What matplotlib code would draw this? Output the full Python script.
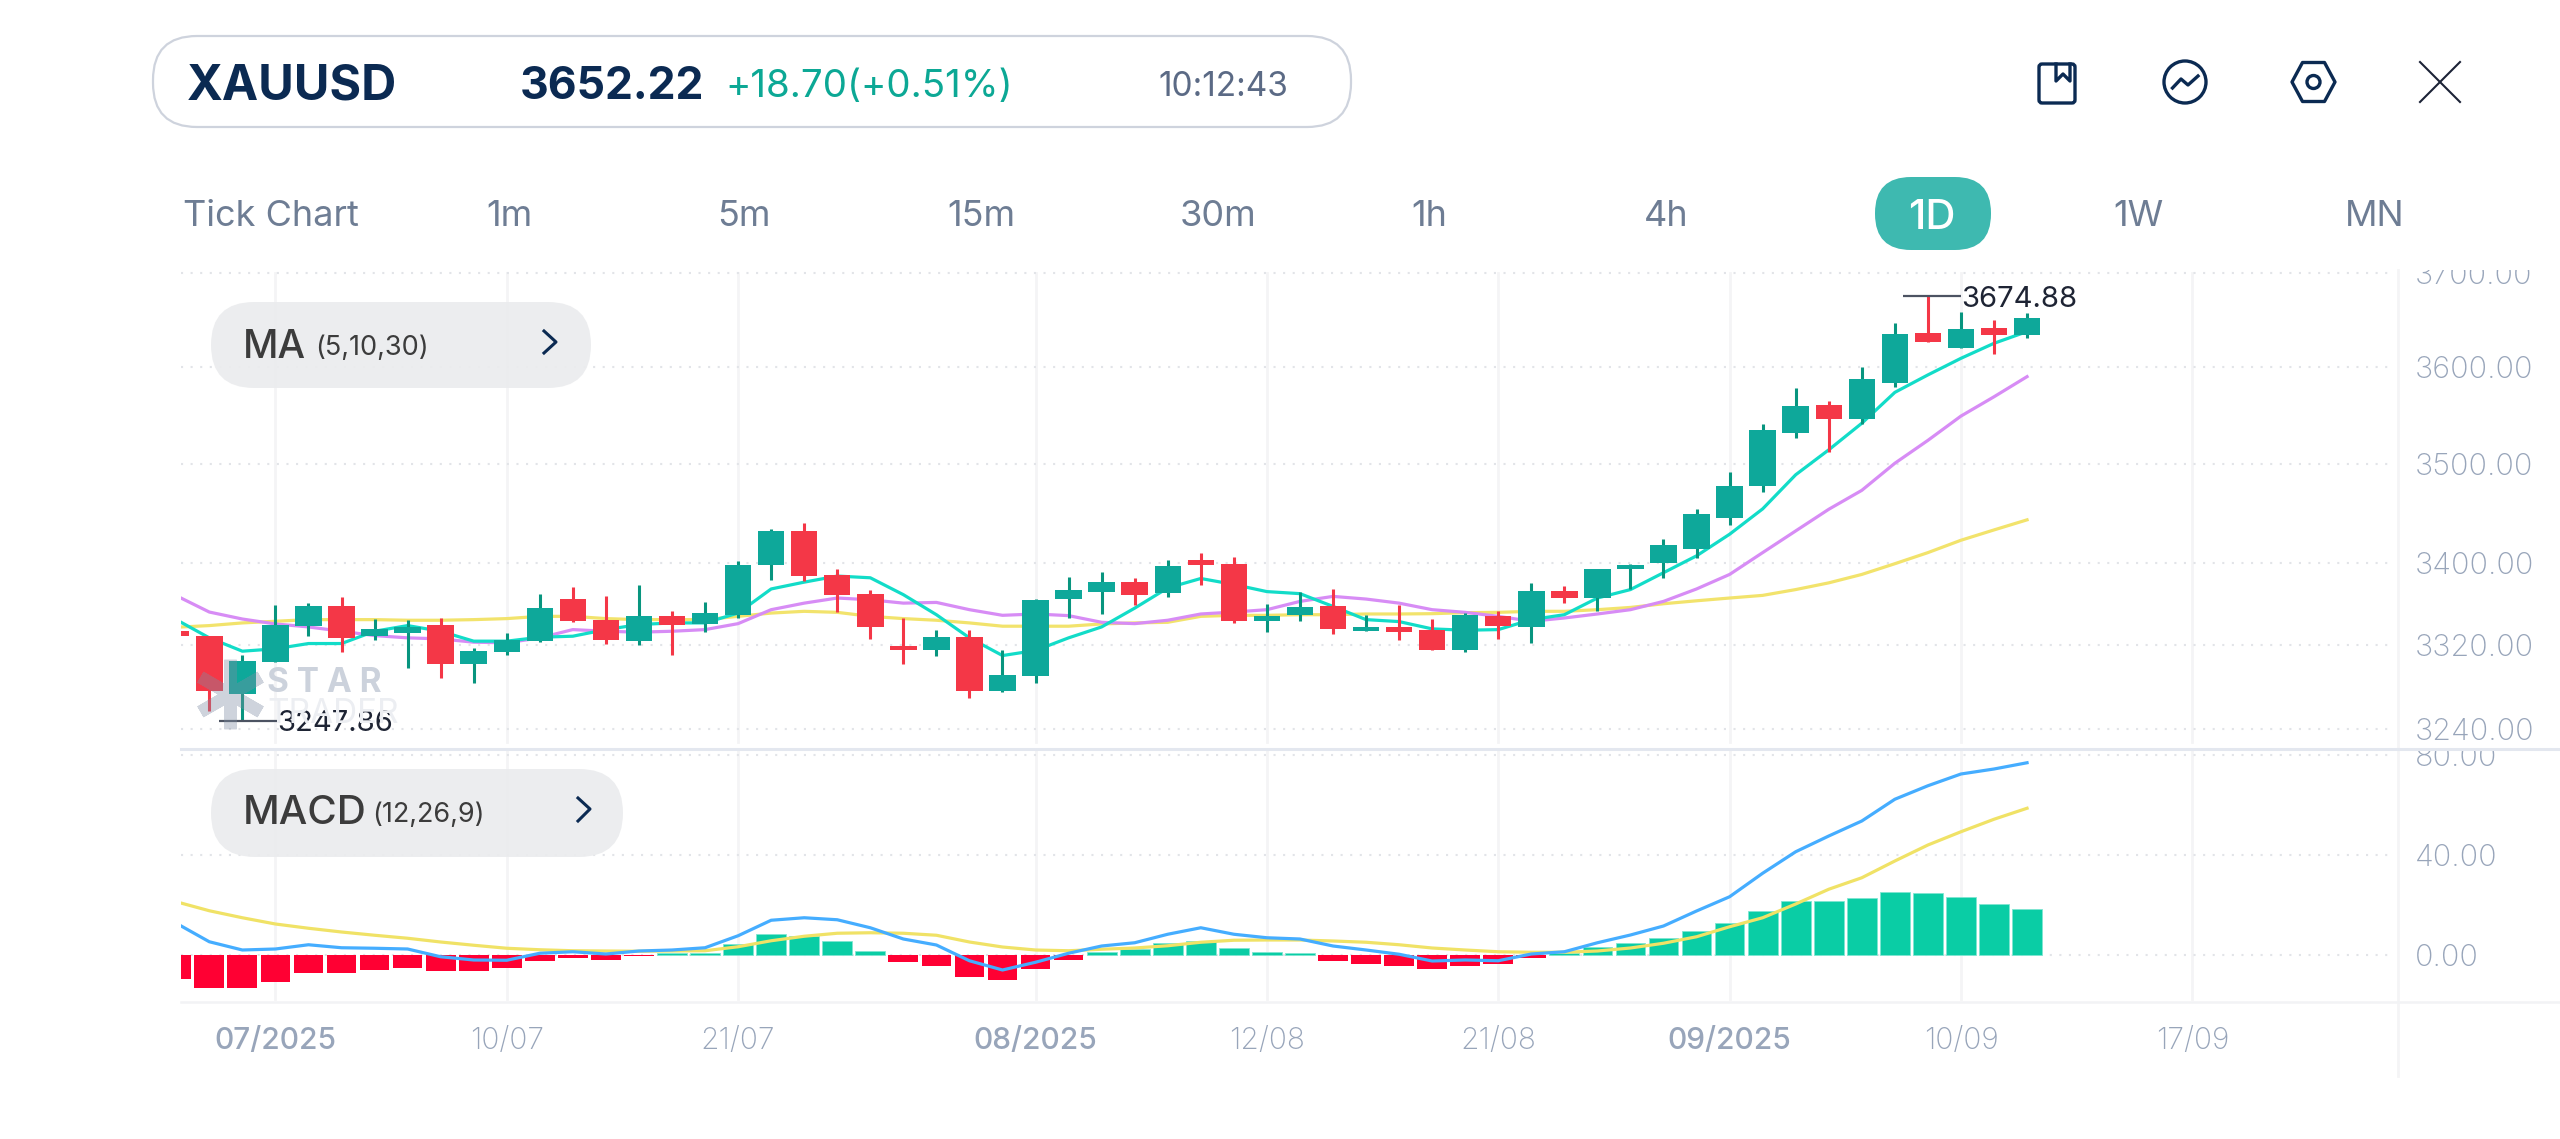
import numpy as np
import matplotlib
matplotlib.use("Agg")
import matplotlib.pyplot as plt
from matplotlib.patches import FancyBboxPatch, Circle, Polygon
from matplotlib.ticker import NullLocator

plt.rcParams['font.family'] = ['Inter', 'DejaVu Sans']

# --- DATA ---
opens = [3333.5, 3328.7, 3272.9, 3303.6, 3338.4, 3358.3, 3328.7, 3331.9, 3340.0, 3301.7,
         3313.9, 3324.5, 3364.9, 3344.8, 3324.5, 3348.7, 3340.6, 3349.6, 3398.1, 3432.3,
         3388.8, 3369.9, 3319.0, 3315.2, 3327.7, 3276.1, 3290.7, 3365.2, 3371.9, 3381.8,
         3370.9, 3403.7, 3399.4, 3343.2, 3349.0, 3357.7, 3333.9, 3337.4, 3334.5, 3315.8,
         3348.0, 3337.7, 3372.5, 3365.9, 3394.1, 3400.1, 3414.3, 3445.4, 3477.5, 3531.7,
         3560.5, 3546.0, 3583.1, 3636.3, 3619.7, 3641.6, 3633.52]
highs = [3335.0, 3328.7, 3311.0, 3359.3, 3360.9, 3366.9, 3345.4, 3344.2, 3346.4, 3317.4,
         3331.9, 3369.9, 3376.5, 3367.5, 3378.5, 3353.5, 3361.9, 3402.4, 3434.6, 3440.6,
         3394.8, 3374.2, 3346.4, 3335.1, 3335.1, 3315.8, 3364.9, 3386.8, 3391.8, 3385.8,
         3403.7, 3410.7, 3406.7, 3359.9, 3371.5, 3375.2, 3349.6, 3359.3, 3345.4, 3351.2,
         3353.2, 3380.2, 3377.5, 3394.8, 3399.7, 3424.6, 3454.4, 3491.2, 3540.6, 3578.6,
         3564.6, 3600.0, 3646.5, 3674.88, 3657.9, 3649.7, 3656.8]
lows = [3329.0, 3256.9, 3247.86, 3303.6, 3329.3, 3313.2, 3325.5, 3298.1, 3288.5, 3284.0,
        3311.0, 3322.9, 3342.2, 3321.6, 3320.6, 3311.0, 3332.6, 3346.4, 3384.1, 3382.5,
        3352.2, 3326.1, 3302.3, 3309.4, 3269.0, 3275.1, 3283.4, 3346.0, 3350.6, 3359.3,
        3366.5, 3378.5, 3341.6, 3332.6, 3343.8, 3330.6, 3333.9, 3325.5, 3315.8, 3313.2,
        3326.1, 3322.3, 3360.9, 3352.9, 3374.8, 3385.8, 3405.3, 3438.0, 3471.5, 3526.6,
        3511.9, 3541.0, 3578.9, 3626.1, 3619.7, 3613.8, 3631.0]
closes = [3329.3, 3276.1, 3304.6, 3340.0, 3358.3, 3327.1, 3335.8, 3337.7, 3301.7, 3314.2,
          3325.5, 3356.0, 3343.2, 3325.5, 3348.7, 3339.3, 3351.2, 3398.4, 3432.3, 3387.5,
          3369.2, 3337.7, 3315.2, 3327.7, 3276.1, 3291.0, 3363.6, 3374.2, 3381.8, 3368.9,
          3397.4, 3398.1, 3343.2, 3348.7, 3357.0, 3335.8, 3337.4, 3332.9, 3315.8, 3349.6,
          3338.4, 3372.5, 3365.9, 3394.8, 3398.4, 3418.0, 3449.5, 3477.2, 3534.5, 3559.8,
          3545.7, 3587.3, 3635.3, 3626.1, 3640.2, 3633.5, 3652.22]

ma5 = [3344.8, 3327.1, 3314.2, 3316.5, 3321.6, 3321.6, 3333.5, 3339.0, 3333.5, 3323.9,
       3323.9, 3327.7, 3328.7, 3335.1, 3340.0, 3341.6, 3341.6, 3351.2, 3374.8, 3381.5,
       3387.5, 3385.8, 3369.2, 3349.6, 3327.1, 3310.0, 3314.9, 3327.1, 3337.7, 3356.0,
       3375.8, 3385.1, 3379.2, 3372.2, 3370.2, 3357.7, 3344.8, 3342.9, 3335.8, 3334.5,
       3335.1, 3344.8, 3349.6, 3365.9, 3374.2, 3390.8, 3407.5, 3429.0, 3454.4, 3488.9,
       3514.3, 3541.6, 3573.6, 3591.8, 3609.2, 3625.0, 3637.4]
ma10 = [3368.2, 3352.2, 3345.4, 3340.6, 3337.7, 3333.5, 3329.3, 3327.1, 3326.1, 3322.9,
        3322.3, 3327.1, 3335.1, 3333.5, 3332.6, 3333.5, 3335.1, 3340.9, 3354.5, 3360.9,
        3365.9, 3364.2, 3360.9, 3361.6, 3354.5, 3349.0, 3350.3, 3348.7, 3342.2, 3340.9,
        3344.2, 3350.3, 3352.2, 3354.5, 3362.6, 3367.5, 3364.9, 3360.9, 3354.5, 3351.9,
        3348.0, 3343.2, 3346.4, 3350.3, 3354.5, 3362.6, 3374.8, 3389.1, 3410.7, 3432.3,
        3454.0, 3473.1, 3500.6, 3524.0, 3549.0, 3569.0, 3590.0]
ma30 = [3337.4, 3339.0, 3341.6, 3343.2, 3344.8, 3344.8, 3344.8, 3344.2, 3344.2, 3344.8,
        3345.8, 3348.0, 3348.0, 3345.8, 3344.8, 3344.8, 3344.8, 3348.0, 3351.2, 3352.9,
        3351.9, 3348.0, 3345.8, 3344.2, 3341.6, 3338.4, 3338.4, 3338.4, 3340.6, 3341.6,
        3342.2, 3348.0, 3349.0, 3349.0, 3349.6, 3349.6, 3350.3, 3350.3, 3350.6, 3351.6,
        3351.9, 3352.9, 3352.9, 3354.5, 3356.7, 3360.3, 3363.2, 3365.9, 3368.5, 3374.2,
        3380.8, 3389.1, 3399.7, 3410.7, 3423.0, 3433.3, 3443.4]

macd_hist = [-9.5, -13.3, -13.3, -10.7, -7.3, -7.1, -6.0, -5.1, -6.3, -6.3,
             -5.1, -2.4, -1.3, -2.0, -0.5, 0.7, 1.0, 4.4, 8.4, 7.6,
             5.7, 1.7, -2.8, -4.4, -8.7, -9.9, -5.5, -2.0, 1.3, 2.4,
             4.7, 5.7, 2.7, 1.2, 0.7, -2.4, -3.6, -4.4, -5.6, -4.4,
             -3.5, -1.3, 0.7, 3.3, 4.9, 6.9, 9.7, 12.9, 17.5, 21.5,
             21.5, 22.7, 25.2, 24.7, 23.3, 20.4, 18.4]
macd_dif = [12.7, 5.3, 2.0, 2.4, 4.1, 2.9, 2.7, 2.4, -0.7, -2.0,
            -2.1, 0.7, 1.3, 0.4, 1.6, 2.0, 2.9, 7.7, 13.9, 14.9,
            14.1, 10.9, 6.4, 4.0, -2.3, -6.0, -2.9, 0.7, 3.6, 4.9,
            8.3, 10.9, 8.3, 6.9, 6.4, 3.6, 2.0, 0.3, -2.4, -2.0,
            -2.3, 0.4, 1.3, 4.9, 8.0, 11.6, 17.6, 23.3, 32.7, 41.3,
            47.6, 53.6, 62.3, 67.7, 72.4, 74.4, 76.9]
macd_dea = [21.3, 17.7, 14.9, 12.4, 10.7, 9.2, 7.9, 6.7, 5.2, 3.9,
            2.7, 2.1, 1.7, 1.6, 1.5, 1.6, 1.7, 3.3, 5.7, 7.5,
            8.7, 8.9, 8.7, 7.9, 5.2, 3.2, 2.0, 1.7, 2.3, 2.8,
            3.7, 5.1, 5.9, 6.0, 6.0, 5.6, 5.1, 4.1, 2.8, 2.0,
            1.3, 1.1, 1.1, 1.6, 2.8, 4.7, 7.3, 11.3, 14.9, 20.4,
            26.3, 30.9, 37.6, 44.0, 49.3, 54.3, 58.7]

price_ticks = [3700, 3600, 3500, 3400, 3320, 3240]
macd_ticks = [80, 40, 0]
date_pos = [3, 10, 17, 26, 33, 40, 47, 54, 61]
date_labels = ['07/2025', '10/07', '21/07', '08/2025', '12/08', '21/08', '09/2025', '10/09', '17/09']
month_labels = ['07/2025', '08/2025', '09/2025']

periods = ['Tick Chart', '1m', '5m', '15m', '30m', '1h', '4h', '1W', 'MN']
period_x = [271, 509, 744, 981, 1218, 1429, 1666, 2138, 2375]

# --- COLOURS ---
UP = '#0ea89a'
UP_WICK = '#08957f'
DOWN = '#f43747'
HIST_UP = '#0acda5'
HIST_DOWN = '#ff0033'
NAVY = '#0b2a52'
GRID = '#e2e4e8'
VGRID = '#f4f4f6'
AXIS_TEXT = '#98a5ba'

# --- LAYOUT (pixels of the 2560x1139 picture) ---
W, H = 2560, 1139
X0, STEP = 176.25, 33.05  # pixel of candle 0, pixels per candle
LEFT = 181
AXIS_X = 2397.7
DOT_END = 2390
LABEL_X = 2415


def idx(px):
    return (px - X0) / STEP


fig = plt.figure(figsize=(W / 100, H / 100), dpi=100, facecolor='white')
ax = fig.add_axes([LEFT / W, 1 - 748 / H, (W - LEFT) / W, (748 - 270) / H])
ax2 = fig.add_axes([LEFT / W, 1 - 1002 / H, (W - LEFT) / W, (1002 - 750) / H])
ui = fig.add_axes([0, 0, 1, 1])
ui.set_xlim(0, W)
ui.set_ylim(H, 0)
ui.axis('off')

xs = np.arange(len(opens))
o = np.array(opens)
c = np.array(closes)
rising = c >= o

for a in (ax, ax2):
    a.set_xlim(idx(LEFT), idx(W))
    a.patch.set_visible(False)
    for s in a.spines.values():
        s.set_visible(False)

# --- PRICE PANEL ---
ax.set_yscale('log')
ax.set_ylim(3222.1, 3703.2)
ax.yaxis.set_major_locator(NullLocator())
ax.yaxis.set_minor_locator(NullLocator())
ax.set_xticks([])

for p in date_pos:
    ax.axvline(p, ymin=6 / 478, ymax=475 / 478, color=VGRID, lw=2, zorder=1)
for v in price_ticks:
    ax.hlines(v, idx(LEFT), idx(DOT_END), color=GRID, lw=1.5, linestyles=(0, (1, 3.6)), zorder=1)
    ax.text(idx(LABEL_X), v, f'{v:.2f}', color=AXIS_TEXT, fontsize=22, va='center_baseline',
            fontweight='light', clip_on=True)

ax.plot(xs, ma30, color='#f2e36c', lw=2.3, zorder=2, solid_joinstyle='round')
ax.plot(xs, ma10, color='#d78cf5', lw=2.3, zorder=2, solid_joinstyle='round')
ax.plot(xs, ma5, color='#12dcc8', lw=2.3, zorder=2, solid_joinstyle='round')

ax.vlines(xs[rising], np.array(lows)[rising], np.array(highs)[rising], color=UP_WICK, lw=2.2, zorder=3)
ax.vlines(xs[~rising], np.array(lows)[~rising], np.array(highs)[~rising], color=DOWN, lw=2.2, zorder=3)
ax.bar(xs[rising], (c - o)[rising], bottom=o[rising], width=0.8, color=UP, zorder=4)
ax.bar(xs[~rising], (c - o)[~rising], bottom=o[~rising], width=0.8, color=DOWN, zorder=4)

# high / low labels
hi_i, lo_i = int(np.argmax(highs)), int(np.argmin(lows))
ax.hlines(highs[hi_i], hi_i - 0.75, hi_i + 1, color='#4c5362', lw=1.6, zorder=5)
ax.text(hi_i + 1, highs[hi_i], f'{highs[hi_i]:.2f}', color='#1e2434', fontsize=21, va='center_baseline', zorder=6)
ax.hlines(lows[lo_i], lo_i - 0.7, lo_i + 1.05, color='#4c5362', lw=1.6, zorder=5)
ax.text(lo_i + 1.05, lows[lo_i], f'{lows[lo_i]:.2f}', color='#1e2434', fontsize=21, va='center_baseline', zorder=6)

# --- MACD PANEL ---
ax2.set_ylim(-18.8, 82)
ax2.set_yticks([])
for p in date_pos:
    ax2.axvline(p, ymin=3 / 252, ymax=1, color=VGRID, lw=2, zorder=1)
for v in macd_ticks:
    ax2.hlines(v, idx(LEFT), idx(DOT_END), color=GRID, lw=1.5, linestyles=(0, (1, 3.6)), zorder=1)
    ax2.text(idx(LABEL_X), v, f'{v:.2f}', color=AXIS_TEXT, fontsize=22, va='center_baseline',
             fontweight='light', clip_on=True)

hist = np.array(macd_hist)
ax2.bar(xs[hist >= 0], hist[hist >= 0], width=0.9, color=HIST_UP, zorder=2, edgecolor='#7fe6d2', lw=0.6)
ax2.bar(xs[hist < 0], hist[hist < 0], width=0.9, color=HIST_DOWN, zorder=2)
ax2.plot(xs, macd_dea, color='#f0e266', lw=2.3, zorder=3)
ax2.plot(xs, macd_dif, color='#45adff', lw=2.3, zorder=3)

ax2.set_xticks(date_pos, date_labels)
ax2.tick_params(axis='x', length=0, pad=18, labelsize=21.5, labelcolor=AXIS_TEXT)
for t in ax2.get_xticklabels():
    t.set_fontweight('medium' if t.get_text() in month_labels else 'light')

# --- FRAME LINES ---
ui.plot([AXIS_X, AXIS_X], [270, 1076], color=VGRID, lw=2)
ui.plot([LEFT, W], [748.5, 748.5], color='#e3e7ef', lw=2.2)
ui.plot([LEFT, W], [1002, 1002], color='#f2f3f5', lw=1.8)

# --- WATERMARK ---
ui.plot([230], [694], marker=(6, 2, 0), ms=50, mew=9, color='#7f8da3', alpha=0.38, zorder=7)
ui.text(267, 683, 'S T A R', color='#ccd2dc', fontsize=24, fontweight='bold', va='center', zorder=2)
ui.text(267, 714, 'TRADER', color='#eceef2', fontsize=24, va='center', zorder=2)


def pill(x0, y0, x1, y1, radius, face, edge='none', lw=0, alpha=1.0, zorder=8):
    ui.add_patch(FancyBboxPatch((x0, y0), x1 - x0, y1 - y0,
                                boxstyle=f'round,pad=0,rounding_size={radius}',
                                fc=face, ec=edge, lw=lw, alpha=alpha, zorder=zorder))


# --- HEADER ---
pill(153, 36, 1351, 127, 44, 'white', edge='#ced3dd', lw=1.6)
ui.text(187, 86, 'XAUUSD', color=NAVY, fontsize=35, fontweight='bold', va='center', zorder=9)
ui.text(520, 87, '3652.22', color=NAVY, fontsize=32, fontweight='bold', va='center', zorder=9)
ui.text(725, 87, '+18.70(+0.51%)', color='#0ca895', fontsize=27.7, va='center', zorder=9)
ui.text(1158, 87, '10:12:43', color='#5b6a85', fontsize=24, va='center', zorder=9)

# icons
pill(2039, 64, 2075, 103, 3, 'white', edge=NAVY, lw=2.4, zorder=9)
ui.plot([2056, 2056, 2063, 2070, 2070], [64, 81, 74, 81, 64], color=NAVY, lw=2.4, zorder=10)
ui.add_patch(Circle((2185, 82), 21, fc='white', ec=NAVY, lw=2.4, zorder=9))
ui.plot([2172.5, 2181, 2188, 2198], [88, 79, 85, 76], color=NAVY, lw=2.4, zorder=10)
ui.add_patch(Polygon([(2292, 82), (2302.5, 62.5), (2324.5, 62.5), (2335, 82), (2324.5, 101.5), (2302.5, 101.5)],
                     closed=True, fc='white', ec=NAVY, lw=2.4, joinstyle='round', zorder=9))
ui.add_patch(Circle((2313.5, 82), 6.5, fc='white', ec=NAVY, lw=2.4, zorder=10))
ui.plot([2420, 2460], [62, 102], color='#1b2336', lw=1.5, zorder=9)
ui.plot([2460, 2420], [62, 102], color='#1b2336', lw=1.5, zorder=9)

# period row
for label, px in zip(periods, period_x):
    ui.text(px, 216, label, color='#6e7d94', fontsize=26, ha='center', va='center', zorder=9)
pill(1875, 177, 1991, 250, 36, '#3eb9b0', zorder=8)
ui.text(1932, 218, '1D', color='white', fontsize=30, fontweight='medium', ha='center', va='center', zorder=9)

# --- INDICATOR BUTTONS ---
pill(211, 302, 591, 388, 43, '#ebecee', alpha=0.93)
ui.text(243, 347, 'MA', color='#3c3c3c', fontsize=28, fontweight='medium', va='center', zorder=9)
ui.text(315, 348, '(5,10,30)', color='#3c3c3c', fontsize=19.5, va='center', zorder=9)
ui.plot([544, 556, 544], [331, 342, 353], color=NAVY, lw=2.2, zorder=9)

pill(211, 769, 623, 857, 44, '#ebecee', alpha=0.93)
ui.text(243, 814, 'MACD', color='#3c3c3c', fontsize=29, fontweight='medium', va='center', zorder=9)
ui.text(372, 815, '(12,26,9)', color='#3c3c3c', fontsize=19.5, va='center', zorder=9)
ui.plot([578, 590, 578], [798, 809, 821], color=NAVY, lw=2.2, zorder=9)

fig.savefig('out.png', dpi=100)
